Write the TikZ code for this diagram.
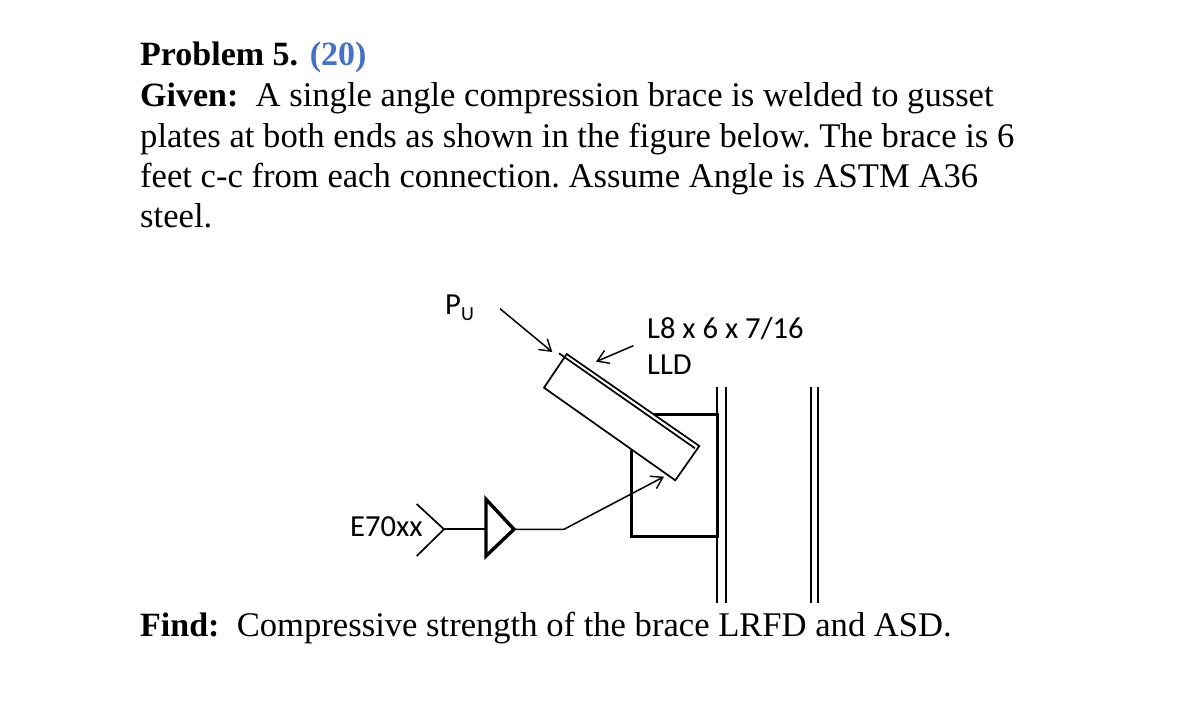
\documentclass[tikz,border=0pt]{standalone}
\usepackage{fontspec}
\setmainfont{Liberation Serif}
\newfontfamily\figfont{Carlito}
\usetikzlibrary{arrows.meta}
\definecolor{scoreblue}{HTML}{4472C4}
\tikzset{
  txt/.style={anchor=base west,inner sep=0pt,font=\frenchspacing\fontsize{34.6}{40}\selectfont},
  figtxt/.style={anchor=base west,inner sep=0pt,font=\figfont\fontsize{30.6}{36}\selectfont},
  thinln/.style={line width=1.7pt},
  gussetln/.style={line width=2.6pt,line join=miter},
  leader/.style={line width=1.5pt,-{Straight Barb[length=11pt,width=14pt,line width=1.4pt]}}
}
\newcommand{\headbf}[1]{{\fontsize{34}{40}\selectfont\textbf{#1}}}
\begin{document}
\begin{tikzpicture}[x=1pt,y=-1pt]
  \useasboundingbox (0,0) rectangle (1179,710);
  % text
  \node[txt] (title) at (140,65) {\headbf{Problem 5.}\hspace{11.7pt}\textcolor{scoreblue}{\headbf{(20)}}};
  \node[txt] (line1) at (140,106) {\headbf{Given:}\hspace{0.5em}A single angle compression brace is welded to gusset};
  \node[txt] (line2) at (140,147) {plates at both ends as shown in the figure below. The brace is 6};
  \node[txt] (line3) at (140,187) {feet c-c from each connection. Assume Angle is ASTM A36};
  \node[txt] (line4) at (140,227) {steel.};
  \node[txt] (find) at (140,636) {\headbf{Find:}\hspace{0.5em}Compressive strength of the brace LRFD and ASD.};
  % labels
  \node[figtxt] (pu) at (445,314) {P\raisebox{-6pt}{\fontsize{20}{24}\selectfont U}};
  \node[figtxt] (size) at (647,338) {L8 x 6 x 7/16};
  \node[figtxt] (lld) at (647,374) {LLD};
  \node[figtxt] (rod) at (350,536) {E70xx};
  % column
  \draw[thinln] (717.3,387)--(717.3,603);
  \draw[thinln] (725.7,387)--(725.7,603);
  \draw[thinln] (810.7,387)--(810.7,603);
  \draw[thinln] (818.3,387)--(818.3,603);
  % gusset
  \draw[gussetln] (653.3,414.3)--(717.3,414.3)--(717.3,536.7)--(631.7,536.7)--(631.7,450);
  % brace
  \coordinate (ba) at (566.7,354);
  \coordinate (bb) at (699.3,446);
  \coordinate (bc) at (675.3,480.3);
  \coordinate (bd) at (544,387.7);
  \coordinate (lega) at (559,353.3);
  \coordinate (legb) at (695,448.3);
  \draw[thinln,fill=white] (ba)--(bb)--(bc)--(bd)--cycle;
  \draw[thinln] (lega)--(legb);
  % arrows
  \coordinate (pstart) at (500,308.7);
  \coordinate (pend) at (552.3,352);
  \coordinate (lstart) at (633.3,345.7);
  \coordinate (lend) at (596,361.7);
  \draw[leader] (pstart)--(pend);
  \draw[leader] (lstart)--(lend);
  % weld symbol
  \coordinate (taila) at (416.7,504);
  \coordinate (tailb) at (444,529.3);
  \coordinate (tailc) at (416.7,556);
  \coordinate (tria) at (486,499.3);
  \coordinate (trib) at (486,556);
  \coordinate (tric) at (514,529.3);
  \coordinate (bend) at (564,529.3);
  \coordinate (wend) at (664,476.7);
  \draw[thinln] (taila)--(tailb)--(tailc);
  \draw[thinln] (tailb)--(tria |- tailb);
  \draw[line width=3.4pt,line join=miter] (tria)--(tric)--(trib)--cycle;
  \draw[leader] (tric)--(bend)--(wend);
\end{tikzpicture}
\end{document}
